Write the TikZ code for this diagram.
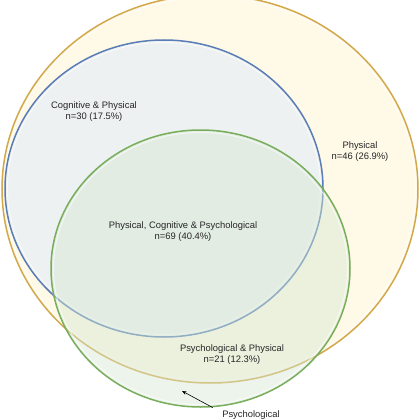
\documentclass[tikz,border=0pt]{standalone}
\usepackage{fontspec}
\setmainfont{Liberation Sans}
\usepackage{xcolor}
\usetikzlibrary{arrows.meta}
\definecolor{physFill}{HTML}{FFF2CC}
\definecolor{physLine}{HTML}{D2A94A}
\definecolor{cogFill}{HTML}{DAE8FC}
\definecolor{cogLine}{HTML}{5A7DB5}
\definecolor{psyFill}{HTML}{D5E8D4}
\definecolor{psyLine}{HTML}{78AD5C}

\begin{document}
\begin{tikzpicture}[x=1pt, y=-1pt,
  every node/.style={font=\fontsize{9.4}{11}\selectfont, align=center, text=black!85},
  setline/.style={line width=1.5pt, fill opacity=0.45},
  shine/.style={line width=1pt, white, opacity=0.6}]
  \useasboundingbox (0,0) rectangle (420,420);
  \fill[white] (0,0) rectangle (420,420);
  \clip (0,0) rectangle (420,420);
  % the three sets
  \filldraw[setline, draw=physLine, fill=physFill] (210,189) ellipse [x radius=208, y radius=194];
  \draw[shine] (210,189) ellipse [x radius=205.5, y radius=191.5];
  \filldraw[setline, draw=cogLine, fill=cogFill] (164,188.5) ellipse [x radius=159, y radius=148.5];
  \draw[shine] (164,188.5) ellipse [x radius=156.5, y radius=146];
  \filldraw[setline, draw=psyLine, fill=psyFill] (200.5,268.5) ellipse [x radius=149.5, y radius=138.5];
  \draw[shine] (200.5,268.5) ellipse [x radius=147, y radius=136];
  % labels
  \node (cogphys) at (94,112) {Cognitive \& Physical\\n=30 (17.5\%)};
  \node (phys) at (360,152) {Physical\\n=46 (26.9\%)};
  \node (all) at (183,232) {Physical, Cognitive \& Psychological\\n=69 (40.4\%)};
  \node (psyphys) at (232,354.5) {Psychological \& Physical\\n=21 (12.3\%)};
  \node (psy) at (251,415.5) {Psychological};
  \coordinate (psytip) at (182,391);
  \draw[line width=0.6pt, -{Stealth[length=4.5pt, width=3.5pt]}] ([xshift=-6pt]psy.north west) -- (psytip);
\end{tikzpicture}
\end{document}
